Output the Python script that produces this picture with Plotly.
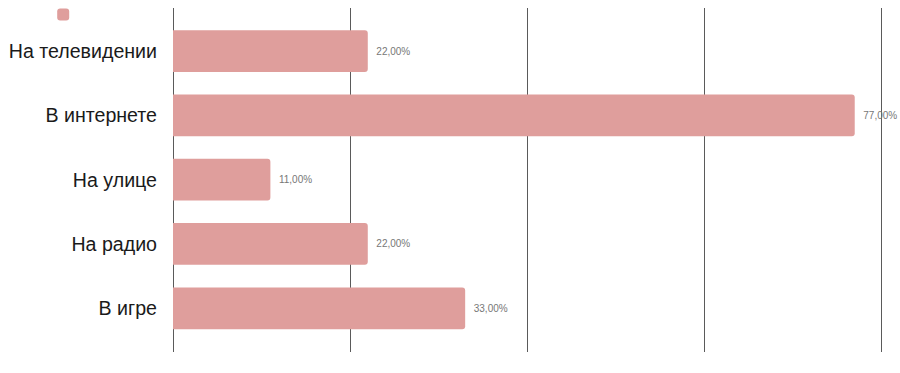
import plotly.graph_objects as go

categories = ["На телевидении", "В интернете", "На улице", "На радио", "В игре"]
values = [22, 77, 11, 22, 33]
x_ticks = [0, 20, 40, 60, 80]

fig = go.Figure()
fig.add_trace(go.Bar(
    y=categories,
    x=values,
    orientation="h",
    name="",
    marker=dict(color="#DF9E9C", cornerradius=3, line=dict(width=0)),
    texttemplate="\u00a0\u00a0%{x:.2f}%",
    textposition="outside",
    textfont=dict(size=10, color="#777777", family="Liberation Sans, Arial, sans-serif"),
    cliponaxis=False,
    showlegend=True,
))

fig.update_layout(
    width=900,
    height=373,
    margin=dict(l=173, r=1, t=8, b=21, autoexpand=False),
    plot_bgcolor="white",
    paper_bgcolor="white",
    separators=", ",
    bargap=0.35,
    font=dict(family="Liberation Sans, Arial, sans-serif", color="#222222"),
    showlegend=True,
    legend=dict(
        xref="container", yref="container",
        x=0.048, y=1.008, xanchor="left", yanchor="top",
        font=dict(size=10),
        bgcolor="rgba(0,0,0,0)",
    ),
    xaxis=dict(
        range=[0, 82],
        tickvals=x_ticks,
        showticklabels=False,
        showgrid=True,
        gridcolor="#5a5a5a",
        gridwidth=1,
        zeroline=True,
        zerolinecolor="#5a5a5a",
        zerolinewidth=1,
        showline=False,
        fixedrange=True,
        automargin=False,
    ),
    yaxis=dict(
        categoryorder="array",
        categoryarray=categories,
        range=[4.68, -0.67],
        showgrid=False,
        zeroline=False,
        showline=False,
        ticks="",
        ticklabelstandoff=15,
        tickfont=dict(size=19.6, color="#1a1a1a"),
        automargin=False,
        fixedrange=True,
    ),
)

fig.write_html("out.html", config={"displayModeBar": False},
               post_script="document.body.style.margin='0';")
